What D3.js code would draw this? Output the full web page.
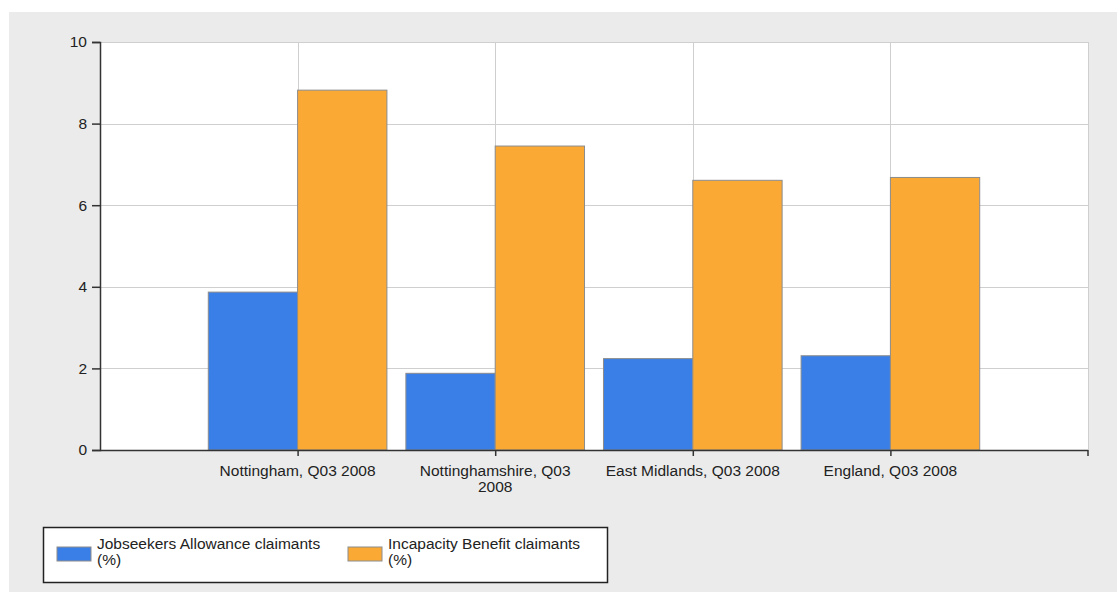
<!DOCTYPE html>
<html><head><meta charset="utf-8">
<script src="https://cdn.jsdelivr.net/npm/d3@7"></script>
<style>
html,body{margin:0;padding:0;background:#fff;}
svg{display:block;}
text{font-family:"Liberation Sans",Arial,sans-serif;fill:#222;}
</style></head><body>
<svg id="c" width="1117" height="592"></svg>
<script>
const categories = [["Nottingham, Q03 2008"], ["Nottinghamshire, Q03", "2008"], ["East Midlands, Q03 2008"], ["England, Q03 2008"]];
const jsaValues = [3.87, 1.88, 2.24, 2.31];
const ibValues = [8.82, 7.45, 6.61, 6.68];
const seriesNames = [["Jobseekers Allowance claimants", "(%)"], ["Incapacity Benefit claimants", "(%)"]];
const seriesColors = ["#3a7fe8", "#fba935"];
const yTicks = [0, 2, 4, 6, 8, 10];

const svg = d3.select("#c");
svg.append("rect").attr("x", 9).attr("y", 12).attr("width", 1108).attr("height", 580).attr("fill", "#ebebeb");

const L = 100, R = 1088, T = 42, B = 450;
const x = d3.scaleLinear().domain([0, categories.length + 1]).range([L, R]);
const y = d3.scaleLinear().domain([0, 10]).range([B, T]);

svg.append("rect").attr("x", L).attr("y", T).attr("width", R - L).attr("height", B - T).attr("fill", "#fff");

// grid
const grid = svg.append("g").attr("stroke", "#cfcfcf").attr("stroke-width", 1);
yTicks.filter(v => v > 0).forEach(v => {
  grid.append("line").attr("x1", L).attr("x2", R).attr("y1", Math.round(y(v)) + 0.5).attr("y2", Math.round(y(v)) + 0.5);
});
categories.forEach((c, i) => {
  grid.append("line").attr("x1", Math.round(x(i + 1)) + 0.5).attr("x2", Math.round(x(i + 1)) + 0.5).attr("y1", T).attr("y2", B);
});
grid.append("line").attr("x1", R + 0.5).attr("x2", R + 0.5).attr("y1", T).attr("y2", B);

// bars
const bw = x(0.452) - x(0);
const series = [jsaValues, ibValues];
series.forEach((vals, s) => {
  svg.append("g").selectAll("rect").data(vals).join("rect")
    .attr("x", (d, i) => x(i + 1) + (s === 0 ? -bw : 0))
    .attr("y", d => y(d))
    .attr("width", bw)
    .attr("height", d => B - y(d))
    .attr("fill", seriesColors[s])
    .attr("stroke", "#8c8c8c").attr("stroke-width", 1);
});

// y axis
const yAxis = d3.axisLeft(y).tickValues(yTicks).tickSize(8).tickPadding(5).tickFormat(d3.format("d"));
const ya = svg.append("g").attr("transform", `translate(${L},0)`).call(yAxis);
ya.select(".domain").attr("stroke", "#333").attr("stroke-width", 1.5);
ya.selectAll(".tick line").attr("stroke", "#333").attr("stroke-width", 1.5);
ya.selectAll(".tick text").attr("font-size", 15.5).attr("fill", "#222").attr("font-family", "Liberation Sans, Arial, sans-serif");

// x axis
const xAxis = d3.axisBottom(x).tickValues([1, 2, 3, 4, 5]).tickSize(6).tickFormat("");
const xa = svg.append("g").attr("transform", `translate(0,${B})`).call(xAxis);
xa.select(".domain").attr("stroke", "#333").attr("stroke-width", 1.5).attr("d", `M${L},0.5H${R}`);
xa.selectAll(".tick line").attr("stroke", "#333").attr("stroke-width", 1.5);
xa.selectAll(".tick").filter(d => d === 5).attr("transform", `translate(${R},0)`);

categories.forEach((lines, i) => {
  const t = svg.append("text").attr("text-anchor", "middle").attr("font-size", 15.5);
  lines.forEach((ln, k) => {
    t.append("tspan").attr("x", x(i + 1)).attr("y", 476 + k * 16).text(ln);
  });
});

// legend
svg.append("rect").attr("x", 43.5).attr("y", 527.5).attr("width", 564).attr("height", 55).attr("fill", "#fff").attr("stroke", "#222").attr("stroke-width", 1.5);
const legX = [57, 348];
seriesNames.forEach((lines, s) => {
  svg.append("rect").attr("x", legX[s]).attr("y", 547).attr("width", 34).attr("height", 14)
    .attr("fill", seriesColors[s]).attr("stroke", "#8c8c8c").attr("stroke-width", 1);
  lines.forEach((ln, k) => {
    svg.append("text").attr("font-size", 15.5).attr("x", legX[s] + 40).attr("y", 549 + k * 16).text(ln);
  });
});
</script>
</body></html>
